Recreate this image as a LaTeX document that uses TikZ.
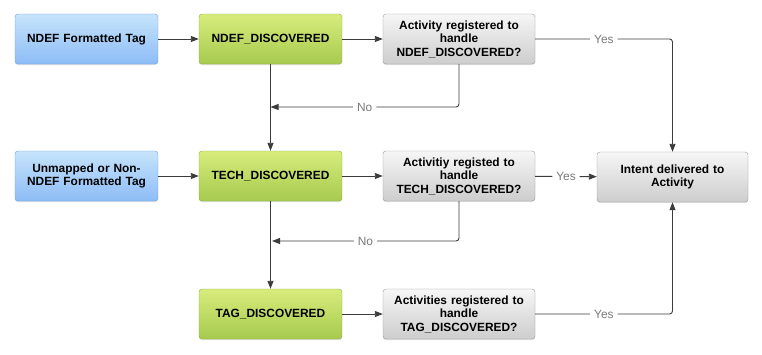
\documentclass[tikz,border=0pt]{standalone}
\usepackage{fontspec}
\setmainfont{Liberation Sans}
\usetikzlibrary{arrows.meta,shadows}
\definecolor{bluetop}{HTML}{C6E4FB}
\definecolor{bluebot}{HTML}{8DBCF6}
\definecolor{blueline}{HTML}{6E9FE6}
\definecolor{greentop}{HTML}{D8EC7C}
\definecolor{greenbot}{HTML}{A6CA4E}
\definecolor{greenline}{HTML}{8CAE42}
\definecolor{graytop}{HTML}{F6F6F6}
\definecolor{graybot}{HTML}{CDCDCD}
\definecolor{grayline}{HTML}{9A9A9A}
\definecolor{conn}{HTML}{3C3C3C}
\definecolor{lblcol}{HTML}{7A7A7A}
\begin{document}
\begin{tikzpicture}[x=1pt,y=-1pt,
  box/.style={rectangle, rounded corners=3pt, minimum height=50pt, align=center,
    font=\bfseries\fontsize{11.9}{13.5}\selectfont, inner sep=2pt,
    drop shadow={shadow xshift=0pt, shadow yshift=-1pt, opacity=0.25}},
  srcbox/.style={box, minimum width=143pt, text width=139pt, draw=blueline, top color=bluetop, bottom color=bluebot},
  evbox/.style={box, minimum width=143pt, text width=139pt, draw=greenline, top color=greentop, bottom color=greenbot},
  qbox/.style={box, minimum width=152pt, text width=148pt, draw=grayline, top color=graytop, bottom color=graybot},
  conline/.style={draw=conn, line width=0.9pt, rounded corners=3pt},
  arr/.style={conline, -{Triangle[length=8pt,width=6pt]}},
  lbl/.style={fill=white, text=lblcol, font=\fontsize{11.9}{13.5}\selectfont, inner sep=4pt}]
\useasboundingbox (0,0) rectangle (762,354);

\node[srcbox] (b1) at (86.5,39) {NDEF Formatted Tag};
\node[evbox] (g1) at (270.5,39) {NDEF\_DISCOVERED};
\node[qbox] (q1) at (459,39) {Activity registered to\\handle\\NDEF\_DISCOVERED?};

\node[srcbox] (b2) at (86.5,176) {Unmapped or Non-\\NDEF Formatted Tag};
\node[evbox] (g2) at (270.5,176) {TECH\_DISCOVERED};
\node[qbox] (q2) at (459,176) {Activitiy registed to\\handle\\TECH\_DISCOVERED?};
\node[qbox, minimum width=151pt, text width=147pt] (it) at (672.5,177) {Intent delivered to\\Activity};

\node[evbox] (g3) at (270.5,314) {TAG\_DISCOVERED};
\node[qbox] (q3) at (459,314) {Activities registered to\\handle\\TAG\_DISCOVERED?};

\coordinate (n1) at (270.5,107);
\coordinate (n2) at (272,241);
\coordinate (y1) at (672.5,39);
\coordinate (y3) at (672.5,314);

\draw[arr] (b1) -- (g1);
\draw[arr] (g1) -- (q1);
\draw[arr] (b2) -- (g2);
\draw[arr] (g2) -- (q2);
\draw[arr] (g3) -- (q3);

\draw[arr] (g1) -- (g2);
\draw[arr] (g2) -- (g3);

\draw[arr] (q1.south) |- node[lbl, pos=0.75] {No} (n1);
\draw[arr] (q2.south) |- node[lbl, pos=0.75] {No} (n2);

\draw[arr] (q1.east) -- node[lbl, pos=0.5] {Yes} (y1) -- (it.north);
\draw[arr] (q2) -- node[lbl] {Yes} (it);
\draw[arr] (q3.east) -- node[lbl, pos=0.5] {Yes} (y3) -- (it.south);
\end{tikzpicture}
\end{document}
